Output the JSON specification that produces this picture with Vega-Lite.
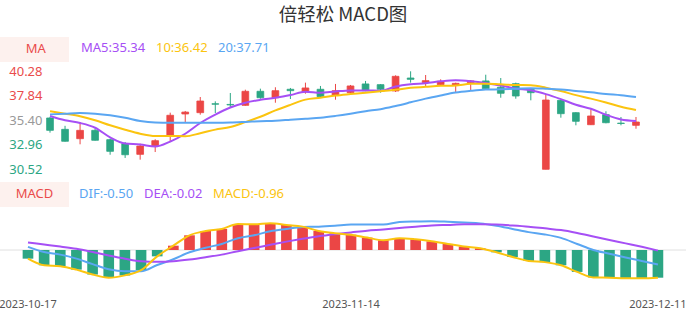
{
  "$schema": "https://vega.github.io/schema/vega-lite/v6.json",
  "width": 686,
  "height": 290,
  "autosize": {"type": "none"},
  "padding": {"top": 30, "left": 0, "right": 0, "bottom": 0},
  "background": "#ffffff",
  "config": {"view": {"stroke": null}, "font": "Noto Sans"},
  "title": {"text": "倍轻松 MACD图", "font": "Noto Sans CJK SC", "fontSize": 18.5, "fontWeight": "normal", "color": "#333333", "anchor": "middle", "frame": "group", "offset": 6},
  "datasets": {
    "k": [
      {"date": "2023-10-17", "open": 35.63, "close": 34.40, "high": 35.73, "low": 34.17, "ma5": 35.83, "ma10": 36.30, "ma20": 35.99, "dif": 0.11, "dea": 0.26, "macd": -0.30},
      {"date": "2023-10-18", "open": 34.50, "close": 33.31, "high": 34.85, "low": 33.28, "ma5": 35.40, "ma10": 36.06, "ma20": 36.06, "dif": -0.07, "dea": 0.19, "macd": -0.53},
      {"date": "2023-10-19", "open": 33.57, "close": 34.40, "high": 35.23, "low": 33.01, "ma5": 35.13, "ma10": 35.80, "ma20": 36.13, "dif": -0.16, "dea": 0.12, "macd": -0.56},
      {"date": "2023-10-20", "open": 34.40, "close": 33.41, "high": 34.56, "low": 33.38, "ma5": 34.66, "ma10": 35.40, "ma20": 36.06, "dif": -0.30, "dea": 0.04, "macd": -0.68},
      {"date": "2023-10-23", "open": 33.47, "close": 32.31, "high": 33.57, "low": 31.97, "ma5": 33.70, "ma10": 34.90, "ma20": 35.90, "dif": -0.49, "dea": -0.07, "macd": -0.85},
      {"date": "2023-10-24", "open": 33.07, "close": 31.97, "high": 33.24, "low": 31.65, "ma5": 33.08, "ma10": 34.46, "ma20": 35.66, "dif": -0.67, "dea": -0.19, "macd": -0.96},
      {"date": "2023-10-25", "open": 32.01, "close": 32.84, "high": 33.07, "low": 31.48, "ma5": 32.99, "ma10": 34.07, "ma20": 35.33, "dif": -0.74, "dea": -0.30, "macd": -0.88},
      {"date": "2023-10-26", "open": 32.84, "close": 33.37, "high": 33.51, "low": 32.24, "ma5": 32.78, "ma10": 33.84, "ma20": 35.18, "dif": -0.74, "dea": -0.39, "macd": -0.70},
      {"date": "2023-10-27", "open": 33.84, "close": 35.90, "high": 36.16, "low": 33.31, "ma5": 33.28, "ma10": 33.84, "ma20": 35.16, "dif": -0.52, "dea": -0.41, "macd": -0.22},
      {"date": "2023-10-30", "open": 36.03, "close": 36.22, "high": 36.33, "low": 35.23, "ma5": 34.06, "ma10": 33.81, "ma20": 35.16, "dif": -0.32, "dea": -0.39, "macd": 0.15},
      {"date": "2023-10-31", "open": 36.16, "close": 37.32, "high": 37.72, "low": 35.96, "ma5": 35.13, "ma10": 34.11, "ma20": 35.16, "dif": -0.08, "dea": -0.33, "macd": 0.51},
      {"date": "2023-11-01", "open": 37.05, "close": 37.00, "high": 37.29, "low": 36.13, "ma5": 35.96, "ma10": 34.47, "ma20": 35.16, "dif": 0.08, "dea": -0.25, "macd": 0.66},
      {"date": "2023-11-02", "open": 36.98, "close": 36.93, "high": 38.12, "low": 36.72, "ma5": 36.67, "ma10": 34.73, "ma20": 35.18, "dif": 0.21, "dea": -0.16, "macd": 0.73},
      {"date": "2023-11-03", "open": 36.89, "close": 38.29, "high": 38.45, "low": 36.85, "ma5": 37.15, "ma10": 35.22, "ma20": 35.24, "dif": 0.41, "dea": -0.04, "macd": 0.90},
      {"date": "2023-11-06", "open": 38.29, "close": 37.65, "high": 38.55, "low": 37.55, "ma5": 37.44, "ma10": 35.75, "ma20": 35.31, "dif": 0.51, "dea": 0.07, "macd": 0.89},
      {"date": "2023-11-07", "open": 37.65, "close": 38.35, "high": 38.69, "low": 37.15, "ma5": 37.64, "ma10": 36.39, "ma20": 35.36, "dif": 0.65, "dea": 0.18, "macd": 0.93},
      {"date": "2023-11-08", "open": 38.49, "close": 38.35, "high": 38.62, "low": 37.52, "ma5": 37.91, "ma10": 36.94, "ma20": 35.46, "dif": 0.73, "dea": 0.29, "macd": 0.87},
      {"date": "2023-11-09", "open": 38.22, "close": 38.62, "high": 39.15, "low": 38.05, "ma5": 38.25, "ma10": 37.46, "ma20": 35.56, "dif": 0.80, "dea": 0.39, "macd": 0.81},
      {"date": "2023-11-10", "open": 38.49, "close": 37.75, "high": 38.82, "low": 37.72, "ma5": 38.14, "ma10": 37.65, "ma20": 35.66, "dif": 0.81, "dea": 0.48, "macd": 0.66},
      {"date": "2023-11-13", "open": 37.89, "close": 38.35, "high": 39.02, "low": 37.45, "ma5": 38.28, "ma10": 37.86, "ma20": 35.84, "dif": 0.84, "dea": 0.55, "macd": 0.58},
      {"date": "2023-11-14", "open": 38.15, "close": 38.82, "high": 38.92, "low": 38.12, "ma5": 38.38, "ma10": 38.01, "ma20": 36.06, "dif": 0.88, "dea": 0.61, "macd": 0.53},
      {"date": "2023-11-15", "open": 39.02, "close": 38.35, "high": 39.32, "low": 38.30, "ma5": 38.38, "ma10": 38.15, "ma20": 36.31, "dif": 0.88, "dea": 0.67, "macd": 0.43},
      {"date": "2023-11-16", "open": 38.95, "close": 38.49, "high": 39.00, "low": 38.15, "ma5": 38.35, "ma10": 38.30, "ma20": 36.51, "dif": 0.88, "dea": 0.71, "macd": 0.34},
      {"date": "2023-11-17", "open": 38.32, "close": 39.78, "high": 39.88, "low": 38.22, "ma5": 38.76, "ma10": 38.45, "ma20": 36.83, "dif": 0.97, "dea": 0.76, "macd": 0.41},
      {"date": "2023-11-20", "open": 39.61, "close": 39.48, "high": 40.28, "low": 39.15, "ma5": 38.98, "ma10": 38.63, "ma20": 37.19, "dif": 0.99, "dea": 0.81, "macd": 0.37},
      {"date": "2023-11-21", "open": 39.15, "close": 39.35, "high": 39.91, "low": 38.82, "ma5": 39.09, "ma10": 38.73, "ma20": 37.56, "dif": 1.00, "dea": 0.85, "macd": 0.30},
      {"date": "2023-11-22", "open": 38.95, "close": 39.28, "high": 39.48, "low": 38.90, "ma5": 39.28, "ma10": 38.83, "ma20": 37.88, "dif": 0.98, "dea": 0.87, "macd": 0.21},
      {"date": "2023-11-23", "open": 38.88, "close": 39.08, "high": 39.15, "low": 38.22, "ma5": 39.39, "ma10": 38.87, "ma20": 38.17, "dif": 0.95, "dea": 0.89, "macd": 0.12},
      {"date": "2023-11-24", "open": 39.15, "close": 39.32, "high": 39.41, "low": 38.42, "ma5": 39.30, "ma10": 39.03, "ma20": 38.34, "dif": 0.92, "dea": 0.89, "macd": 0.06},
      {"date": "2023-11-27", "open": 39.32, "close": 38.55, "high": 39.94, "low": 38.52, "ma5": 39.12, "ma10": 39.05, "ma20": 38.46, "dif": 0.84, "dea": 0.88, "macd": -0.08},
      {"date": "2023-11-28", "open": 38.69, "close": 38.09, "high": 39.61, "low": 37.65, "ma5": 38.86, "ma10": 38.98, "ma20": 38.49, "dif": 0.73, "dea": 0.85, "macd": -0.24},
      {"date": "2023-11-29", "open": 39.05, "close": 37.82, "high": 39.15, "low": 37.55, "ma5": 38.57, "ma10": 38.92, "ma20": 38.54, "dif": 0.62, "dea": 0.81, "macd": -0.38},
      {"date": "2023-11-30", "open": 38.49, "close": 38.15, "high": 38.55, "low": 37.39, "ma5": 38.39, "ma10": 38.89, "ma20": 38.60, "dif": 0.54, "dea": 0.75, "macd": -0.42},
      {"date": "2023-12-01", "open": 30.52, "close": 37.42, "high": 38.00, "low": 30.52, "ma5": 38.01, "ma10": 38.65, "ma20": 38.55, "dif": 0.42, "dea": 0.69, "macd": -0.53},
      {"date": "2023-12-04", "open": 37.39, "close": 36.06, "high": 37.42, "low": 35.66, "ma5": 37.51, "ma10": 38.31, "ma20": 38.47, "dif": 0.21, "dea": 0.59, "macd": -0.76},
      {"date": "2023-12-05", "open": 36.16, "close": 35.30, "high": 36.20, "low": 34.90, "ma5": 36.95, "ma10": 37.91, "ma20": 38.32, "dif": 0.00, "dea": 0.47, "macd": -0.95},
      {"date": "2023-12-06", "open": 34.96, "close": 35.83, "high": 36.50, "low": 34.93, "ma5": 36.55, "ma10": 37.56, "ma20": 38.19, "dif": -0.13, "dea": 0.35, "macd": -0.96},
      {"date": "2023-12-07", "open": 35.96, "close": 35.16, "high": 36.30, "low": 35.10, "ma5": 35.95, "ma10": 37.17, "ma20": 38.02, "dif": -0.26, "dea": 0.23, "macd": -0.98},
      {"date": "2023-12-08", "open": 35.12, "close": 35.08, "high": 35.73, "low": 34.90, "ma5": 35.49, "ma10": 36.75, "ma20": 37.89, "dif": -0.38, "dea": 0.11, "macd": -0.98},
      {"date": "2023-12-11", "open": 34.90, "close": 35.23, "high": 35.73, "low": 34.56, "ma5": 35.34, "ma10": 36.42, "ma20": 37.71, "dif": -0.50, "dea": -0.02, "macd": -0.96}
    ]
  },
  "layer": [
    {
      "layer": [
        {
          "data": {"name": "k"},
          "mark": {"type": "rule", "strokeWidth": 1},
          "encoding": {
            "x": {"field": "date", "type": "ordinal", "scale": {"type": "band", "range": [42.5, 643.5], "paddingInner": 0.55, "paddingOuter": 0.275}, "axis": null},
            "y": {"field": "low", "type": "quantitative", "scale": {"domain": [30.52, 40.28], "range": [139.3, 41.3], "zero": false, "nice": false},
              "axis": {"orient": "left", "offset": -43, "values": [30.52, 32.96, 35.40, 37.84, 40.28], "format": ".2f", "domain": false, "ticks": false, "grid": false, "labelPadding": 1, "labelFontSize": 13, "labelFont": "Noto Sans", "title": null, "labelOverlap": false, "labelFlush": false, "labelBound": false,
                "labelColor": {"condition": [{"test": "datum.value > 35.5", "value": "#ea4b4b"}, {"test": "datum.value < 35.3", "value": "#2ca684"}], "value": "#999999"}}},
            "y2": {"field": "high"},
            "color": {"condition": {"test": "datum.close >= datum.open", "value": "#eb4645"}, "value": "#2ca684"}
          }
        },
        {
          "data": {"name": "k"},
          "mark": {"type": "bar", "strokeWidth": 0.8},
          "encoding": {
            "x": {"field": "date", "type": "ordinal", "axis": null},
            "y": {"field": "open", "type": "quantitative"},
            "y2": {"field": "close"},
            "color": {"condition": {"test": "datum.close >= datum.open", "value": "#eb4645"}, "value": "#2ca684"},
            "stroke": {"condition": {"test": "datum.close >= datum.open", "value": "#eb4645"}, "value": "#2ca684"},
            "opacity": {"field": "date", "type": "ordinal", "scale": {"range": [1, 1]},
              "legend": {"values": ["2023-10-17"], "orient": "none", "legendX": 0, "legendY": 7, "title": null, "fillColor": "#fdf1ee", "padding": 5.5, "symbolType": "M0,0", "symbolSize": 1, "symbolStrokeWidth": 0, "symbolOpacity": 0, "symbolFillColor": "#fdf1ee", "symbolStrokeColor": "#fdf1ee", "labelOffset": -13, "labelFontSize": 13, "labelFont": "Noto Sans", "labelColor": "#ea4b4b",
                "labelExpr": "'\u200b\u00a0\u00a0\u00a0\u00a0\u00a0\u00a0MA\u00a0\u00a0\u00a0\u00a0\u00a0\u200b'"}}
          }
        },
        {
          "data": {"name": "k"},
          "transform": [{"fold": ["ma5", "ma10", "ma20"], "as": ["s", "v"]}],
          "mark": {"type": "line", "strokeWidth": 2, "interpolate": "monotone"},
          "encoding": {
            "x": {"field": "date", "type": "ordinal", "axis": null},
            "y": {"field": "v", "type": "quantitative"},
            "color": {"field": "s", "type": "nominal", "scale": {"domain": ["ma5", "ma10", "ma20"], "range": ["#a64ff5", "#fbc40f", "#5aa6f2"]},
              "legend": {"orient": "none", "legendX": 81, "legendY": 11.5, "direction": "horizontal", "title": null, "padding": 0, "symbolType": "M0,0", "symbolSize": 1, "symbolStrokeWidth": 0, "symbolOpacity": 0, "labelOffset": -13, "columnPadding": 10, "labelFontSize": 13, "labelFont": "Noto Sans",
                "labelExpr": "datum.label == 'ma5' ? 'MA5:35.34' : datum.label == 'ma10' ? '10:36.42' : '20:37.71'",
                "encoding": {"labels": {"fill": {"condition": [{"test": "datum.value == 'ma5'", "value": "#a64ff5"}, {"test": "datum.value == 'ma10'", "value": "#fbc40f"}], "value": "#5aa6f2"}}}}}
          }
        }
      ]
    },
    {
      "layer": [
        {
          "data": {"values": [{"line": "zero"}]},
          "mark": {"type": "rule", "color": "#e0e0e0", "strokeWidth": 1},
          "encoding": {
            "y": {"datum": 0, "type": "quantitative", "axis": null}
          }
        },
        {
          "data": {"name": "k"},
          "mark": {"type": "bar"},
          "encoding": {
            "x": {"field": "date", "type": "ordinal", "scale": {"type": "band", "range": [19.9, 666], "paddingInner": 0.34, "paddingOuter": 0.17},
              "axis": {"orient": "bottom", "offset": -22, "values": ["2023-10-17", "2023-11-14", "2023-12-11"], "domain": false, "ticks": false, "grid": false, "labelPadding": 0, "labelFontSize": 11, "labelFont": "Noto Sans", "labelColor": "#555555", "labelAngle": 0, "title": null, "labelOverlap": false, "labelFlush": false, "labelBound": false}},
            "y": {"field": "macd", "type": "quantitative", "scale": {"domain": [-1, 1], "range": [248.85, 191.15], "zero": false, "nice": false}, "axis": null},
            "y2": {"datum": 0},
            "color": {"condition": {"test": "datum.macd >= 0", "value": "#eb4645"}, "value": "#2ca684"},
            "opacity": {"field": "date", "type": "ordinal", "scale": {"range": [1, 1]},
              "legend": {"values": ["2023-10-17"], "orient": "none", "legendX": 0, "legendY": 152, "title": null, "fillColor": "#fdf1ee", "padding": 5.5, "symbolType": "M0,0", "symbolSize": 1, "symbolStrokeWidth": 0, "symbolOpacity": 0, "symbolFillColor": "#fdf1ee", "symbolStrokeColor": "#fdf1ee", "labelOffset": -13, "labelFontSize": 13, "labelFont": "Noto Sans", "labelColor": "#ea4b4b",
                "labelExpr": "'\u200b\u00a0\u00a0\u00a0MACD\u00a0\u00a0\u00a0\u200b'"}}
          }
        },
        {
          "data": {"name": "k"},
          "transform": [{"fold": ["dif", "dea", "macd"], "as": ["s", "v"]}],
          "mark": {"type": "line", "strokeWidth": 2, "interpolate": "monotone"},
          "encoding": {
            "x": {"field": "date", "type": "ordinal"},
            "y": {"field": "v", "type": "quantitative", "axis": null},
            "color": {"field": "s", "type": "nominal", "scale": {"domain": ["dif", "dea", "macd"], "range": ["#5aa6f2", "#a64ff5", "#fbc40f"]},
              "legend": {"orient": "none", "legendX": 79, "legendY": 157.5, "direction": "horizontal", "title": null, "padding": 0, "symbolType": "M0,0", "symbolSize": 1, "symbolStrokeWidth": 0, "symbolOpacity": 0, "labelOffset": -13, "columnPadding": 10, "labelFontSize": 13, "labelFont": "Noto Sans",
                "labelExpr": "datum.label == 'dif' ? 'DIF:-0.50' : datum.label == 'dea' ? 'DEA:-0.02' : 'MACD:-0.96'",
                "encoding": {"labels": {"fill": {"condition": [{"test": "datum.value == 'dif'", "value": "#5aa6f2"}, {"test": "datum.value == 'dea'", "value": "#a64ff5"}], "value": "#fbc40f"}}}}}
          }
        }
      ]
    }
  ],
  "resolve": {
    "scale": {"x": "independent", "y": "independent", "color": "independent", "opacity": "independent"},
    "axis": {"x": "independent", "y": "independent"},
    "legend": {"color": "independent", "opacity": "independent"}
  }
}
